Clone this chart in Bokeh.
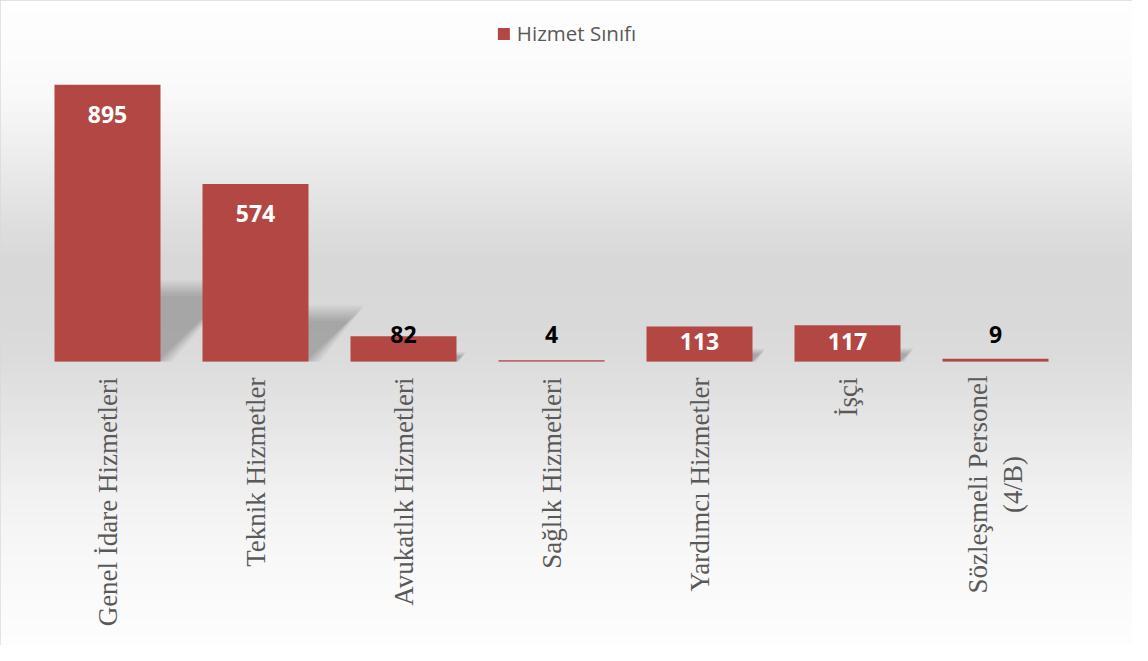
import numpy as np
from bokeh.plotting import figure
from bokeh.models import Range1d, ColumnDataSource
from bokeh.core.properties import value
from bokeh.embed import file_html
from bokeh.resources import INLINE

# ---- data ----
categories = ["Genel İdare Hizmetleri", "Teknik Hizmetler", "Avukatlık Hizmetleri",
              "Sağlık Hizmetleri", "Yardımcı Hizmetler", "İşçi",
              "Sözleşmeli Personel (4/B)"]
counts = [895, 574, 82, 4, 113, 117, 9]
series_name = "Hizmet Sınıfı"

# ---- layout ----
W, H = 1132, 645
cat_px = 148.0
left_pad_px = 33.0
baseline_px = 361.0
px_per_unit = 0.3093

x_start = -0.5 - left_pad_px / cat_px
x_end = x_start + W / cat_px
y_end = baseline_px / px_per_unit
y_start = -(H - baseline_px) / px_per_unit

def px_to_y(px):
    return y_end - px / px_per_unit

p = figure(width=W, height=H, x_range=Range1d(x_start, x_end), y_range=Range1d(y_start, y_end),
           output_backend="svg", toolbar_location=None, min_border=0,
           x_axis_location=None, y_axis_location=None)
p.xgrid.visible = False
p.ygrid.visible = False
p.background_fill_color = "white"
p.border_fill_color = "white"
p.outline_line_color = "#d9d9d9"
p.outline_line_width = 2

# ---- background vertical gradient ----
kp_px = [0, 52, 92, 159, 225, 262, 325, 359, 425, 492, 559, 625, 645]
kp_lv = [254, 252, 249, 236, 222, 216, 217, 220, 230, 241, 248, 252, 253]
band = 3
tops, bots, cols = [], [], []
for j in range(int(np.ceil(H / band))):
    t = j * band
    b = min(H, t + band + 1)
    lv = int(round(np.interp(t + band / 2, kp_px, kp_lv)))
    tops.append(px_to_y(t))
    bots.append(px_to_y(b))
    cols.append("#%02x%02x%02x" % (lv, lv, lv))
p.quad(left=x_start, right=x_end, top=tops, bottom=bots, fill_color=cols, line_color=None)

# ---- soft perspective shadows ----
xs = list(range(len(categories)))
bar_w = 106.0 / cat_px
sh_xs, sh_ys = [], []
for grow in [12, 10, 8, 6, 4, 2, 0, -2, -4]:
    for i, v in enumerate(counts):
        hpx = v * px_per_unit * 0.25
        k = min(1.0, hpx / 25.0)
        dx = hpx / cat_px
        g = grow * k / cat_px
        gy = grow * k / px_per_unit
        xl, xr = i - bar_w / 2, i + bar_w / 2
        top = v * 0.25
        sh_xs.append([xl, xr + g, xr + dx + g, xl + dx])
        sh_ys.append([0, 0, max(0, top + gy), max(0, top + gy)])
p.patches(xs=sh_xs, ys=sh_ys, fill_color="black", fill_alpha=0.028, line_color=None)

# ---- bars ----
src = ColumnDataSource(dict(x=xs, top=counts))
bars = p.vbar(x="x", top="top", width=bar_w, bottom=0, source=src,
              fill_color="#b24744", line_color=None, legend_label=series_name)

# ---- value labels ----
in_x, in_y, in_t, in_off = [], [], [], []
out_x, out_t = [], []
for i, v in enumerate(counts):
    hpx = v * px_per_unit
    if hpx >= 32:
        in_x.append(i); in_y.append(v); in_t.append(str(v))
        in_off.append(min(30.0, hpx - 20.0))
    else:
        out_x.append(i); out_t.append(str(v))
p.text(x="x", y="y", text="t", y_offset="off",
       source=ColumnDataSource(dict(x=in_x, y=in_y, t=in_t, off=in_off)),
       text_font=value("Open Sans"), text_font_style="bold", text_font_size="23px",
       text_color="white", text_align="center", text_baseline="middle")
p.text(x=out_x, y=[0] * len(out_x), text=out_t, y_offset=-27,
       text_font=value("Open Sans"), text_font_style="bold", text_font_size="23px",
       text_color="black", text_align="center", text_baseline="middle")

# ---- category labels ----
s_x, s_t, w_x, w_t = [], [], [], []
for i, c in enumerate(categories):
    if " (" in c:
        w_x.append(i); w_t.append(c.replace(" (", "\n("))
    else:
        s_x.append(i); s_t.append(c)
p.text(x=s_x, y=[0] * len(s_x), text=s_t, angle=np.pi / 2, y_offset=16,
       text_font=value("Liberation Serif"), text_font_size="27px", text_color="#595959",
       text_align="right", text_baseline="middle")
p.text(x=w_x, y=[0] * len(w_x), text=w_t, angle=np.pi / 2, y_offset=123,
       text_font=value("Liberation Serif"), text_font_size="27px", text_color="#595959",
       text_align="center", text_baseline="middle", text_line_height=1.15)

# ---- legend ----
lg = p.legend[0]
lg.location = "top_center"
lg.orientation = "horizontal"
lg.margin = 19
lg.padding = 0
lg.spacing = 0
lg.glyph_width = 15
lg.glyph_height = 15
lg.label_standoff = 6
lg.label_text_font = "Open Sans"
lg.label_text_font_size = "20.5px"
lg.label_text_color = "#595959"
lg.background_fill_alpha = 0
lg.border_line_alpha = 0

open("out.html", "w").write(file_html(p, INLINE))
